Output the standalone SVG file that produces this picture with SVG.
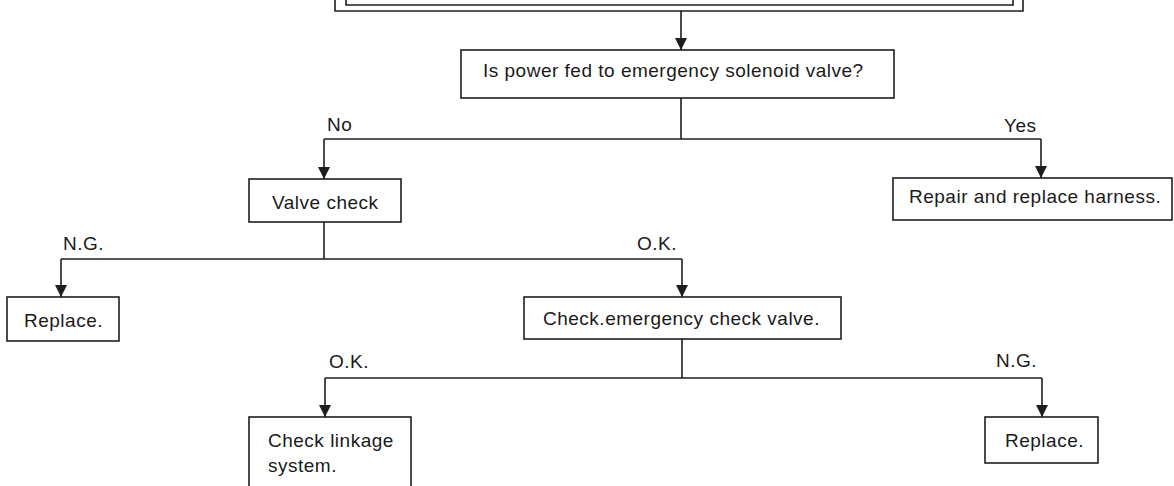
<svg xmlns="http://www.w3.org/2000/svg" width="1174" height="486" viewBox="0 0 1174 486">
<style>
.box{fill:#fff;stroke:#1e1e1e;stroke-width:1.6}
.ln{fill:none;stroke:#1e1e1e;stroke-width:1.6}
.t{font-family:"Liberation Sans",Arial,sans-serif;font-size:19px;letter-spacing:0.5px;fill:#1a1a1a}
</style>
<defs>
<marker id="ah" viewBox="0 0 10 10" refX="10" refY="5" markerWidth="12" markerHeight="12" markerUnits="userSpaceOnUse" orient="auto">
<path d="M0,0 L10,5 L0,10 z" fill="#1e1e1e"/>
</marker>
</defs>
<rect width="1174" height="486" fill="#fff"/>
<g id="top">
<path class="ln" d="M335,-2 V11 H1023 V-2"/>
<path class="ln" d="M346,-2 V5 H1013 V-2"/>
</g>
<g id="q">
<rect class="box" x="461" y="50" width="433" height="48"/>
<text class="t" x="483" y="77">Is power fed to emergency solenoid valve?</text>
</g>
<g id="valve">
<rect class="box" x="249" y="179" width="152" height="43"/>
<text class="t" x="272" y="209">Valve check</text>
</g>
<g id="repair">
<rect class="box" x="893" y="178" width="279" height="42"/>
<text class="t" x="909" y="203">Repair and replace harness.</text>
</g>
<g id="replace1">
<rect class="box" x="7" y="297" width="112" height="44"/>
<text class="t" x="24" y="327">Replace.</text>
</g>
<g id="checkem">
<rect class="box" x="524" y="297" width="317" height="42"/>
<text class="t" x="543" y="325">Check.emergency check valve.</text>
</g>
<g id="linkage">
<rect class="box" x="249" y="417" width="162" height="80"/>
<text class="t" x="268" y="447">Check linkage</text>
<text class="t" x="268" y="472">system.</text>
</g>
<g id="replace2">
<rect class="box" x="985" y="417" width="113" height="46"/>
<text class="t" x="1005" y="447">Replace.</text>
</g>
<g id="connectors">
<path class="ln" d="M681,11 V50" marker-end="url(#ah)"/>
<path class="ln" d="M681,98 V139"/>
<path class="ln" d="M324,139 H1041"/>
<path class="ln" d="M324,139 V179" marker-end="url(#ah)"/>
<path class="ln" d="M1041,139 V178" marker-end="url(#ah)"/>
<path class="ln" d="M324,222 V259"/>
<path class="ln" d="M61,259 H682"/>
<path class="ln" d="M61,259 V297" marker-end="url(#ah)"/>
<path class="ln" d="M682,259 V297" marker-end="url(#ah)"/>
<path class="ln" d="M682,339 V378"/>
<path class="ln" d="M325,378 H1042"/>
<path class="ln" d="M325,378 V417" marker-end="url(#ah)"/>
<path class="ln" d="M1042,378 V417" marker-end="url(#ah)"/>
<text class="t" x="327" y="131">No</text>
<text class="t" x="1004" y="132">Yes</text>
<text class="t" x="63" y="250">N.G.</text>
<text class="t" x="637" y="250">O.K.</text>
<text class="t" x="329" y="368">O.K.</text>
<text class="t" x="996" y="367">N.G.</text>
</g>
</svg>
